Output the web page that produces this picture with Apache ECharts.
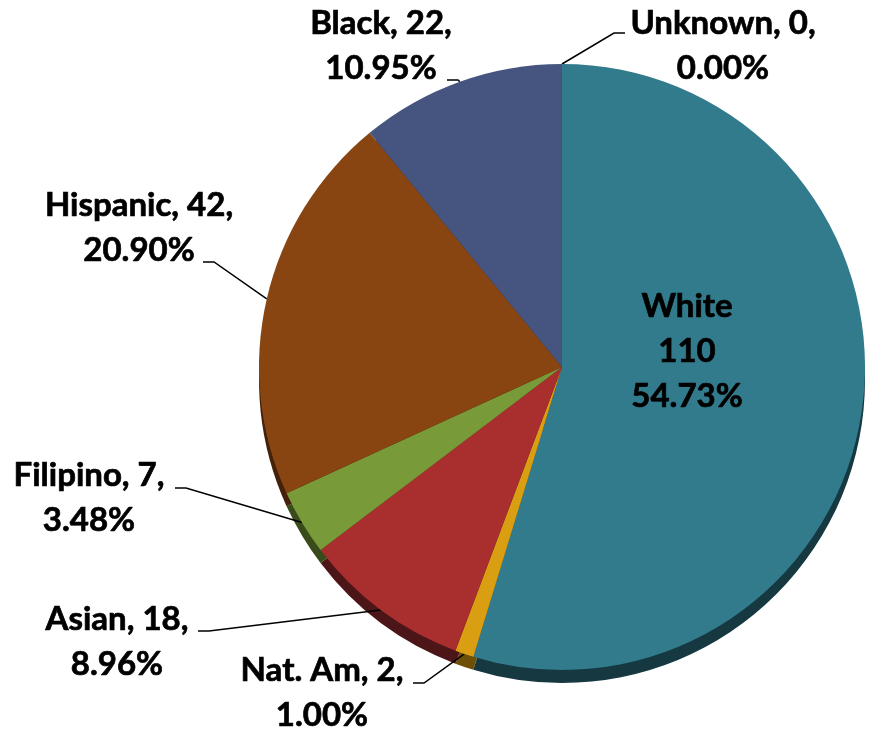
<!DOCTYPE html>
<html>
<head>
<meta charset="utf-8">
<script src="https://cdn.jsdelivr.net/npm/echarts@6/dist/echarts.min.js"></script>
<style>
  html, body { margin: 0; padding: 0; background: #fff; }
  #chart { width: 871px; height: 732px; }
</style>
</head>
<body>
<div id="chart"></div>
<script>
// Enrollment by ethnicity
const categories = ['White', 'Nat. Am', 'Asian', 'Filipino', 'Hispanic', 'Black', 'Unknown'];
const counts = [110, 2, 18, 7, 42, 22, 0];

const sliceColors = ['#327b8c', '#d99e12', '#a92e2e', '#789a38', '#884512', '#45557f', '#5b6d8c'];
const depthColors = ['#153841', '#6e4f08', '#4c1517', '#3a4b1b', '#43210a', '#222a40', '#222a40'];

// Pie geometry (pixels)
const CX = 562, CY = 367, R = 303, DEPTH = 13;

// Where each outside label sits: block centre, and the text-side end of its leader line
const labelPlacement = {
  'White':    { x: 687, y: 351 },
  'Nat. Am':  { x: 322, y: 693, end: [413, 683], dir: 1 },
  'Asian':    { x: 117, y: 642, end: [198, 631], dir: 1 },
  'Filipino': { x: 89,  y: 498, end: [175, 488], dir: 1 },
  'Hispanic': { x: 139, y: 228, end: [203, 262], dir: 1 },
  'Black':    { x: 381, y: 46,  end: [447, 80],  dir: 1 },
  'Unknown':  { x: 723, y: 46,  end: [625, 33],  dir: -1 }
};

const total = counts.reduce((a, b) => a + b, 0);

// Share of the total, always two decimals
function pct(v) {
  return (v / total * 100).toFixed(2) + '%';
}

// Mid-angle edge point of a slice (clockwise from 12 o'clock)
function edgePoint(idx) {
  let before = 0;
  for (let i = 0; i < idx; i++) before += counts[i];
  const mid = (before + counts[idx] / 2) / total * Math.PI * 2;
  return [CX + R * Math.sin(mid), CY - R * Math.cos(mid)];
}

const font = {
  fontFamily: 'Lato', fontWeight: 'bold', fontSize: 33, lineHeight: 45, color: '#000',
  textBorderColor: '#000', textBorderWidth: 0.7
};

const mainData = categories.map((name, i) => {
  const item = { name: name, value: counts[i], itemStyle: { color: sliceColors[i] } };
  if (name === 'White') {
    item.label = { position: 'inside', formatter: p => p.name + '\n' + p.value + '\n' + pct(p.value) };
    item.labelLine = { show: false };
  }
  return item;
});

const depthData = categories.map((name, i) => ({
  name: name, value: counts[i], itemStyle: { color: depthColors[i] }
}));

const chart = echarts.init(document.getElementById('chart'), null, { renderer: 'canvas' });
chart.setOption({
  animation: false,
  backgroundColor: '#ffffff',
  series: [
    {
      type: 'pie',
      silent: true,
      center: [CX, CY + DEPTH],
      radius: R,
      startAngle: 90,
      clockwise: true,
      avoidLabelOverlap: false,
      label: { show: false },
      labelLine: { show: false },
      itemStyle: { borderWidth: 0 },
      data: depthData,
      z: 1
    },
    {
      type: 'pie',
      center: [CX, CY],
      radius: R,
      startAngle: 90,
      clockwise: true,
      avoidLabelOverlap: false,
      itemStyle: { borderWidth: 0 },
      label: Object.assign({
        show: true, position: 'outside', align: 'center',
        formatter: p => p.name + ', ' + p.value + ',\n' + pct(p.value)
      }, font),
      labelLine: { show: true, length: 10, length2: 10, lineStyle: { color: '#000', width: 1.5 } },
      labelLayout: function (params) {
        const name = categories[params.dataIndex];
        const p = labelPlacement[name];
        const out = { x: p.x, y: p.y, align: 'center', verticalAlign: 'middle' };
        if (p.end) {
          const e = edgePoint(params.dataIndex);
          const knee = [p.end[0] + 11 * p.dir, p.end[1]];
          out.labelLinePoints = [e, knee, p.end];
        }
        return out;
      },
      data: mainData,
      z: 2
    }
  ]
});
</script>
</body>
</html>
